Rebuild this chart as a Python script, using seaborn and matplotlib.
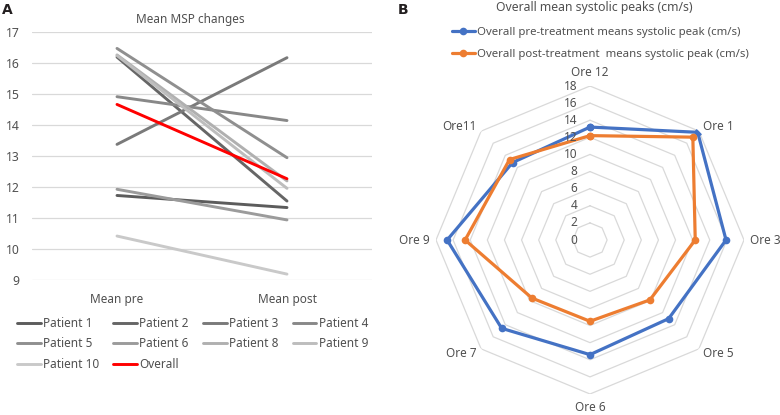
import numpy as np
import pandas as pd
import matplotlib
matplotlib.use("Agg")
import matplotlib.pyplot as plt
from matplotlib.lines import Line2D
import seaborn as sns

# ---------------- data ----------------
stages = ["Mean pre", "Mean post"]
patients = ["Patient 1", "Patient 2", "Patient 3", "Patient 4", "Patient 5",
            "Patient 6", "Patient 8", "Patient 9", "Patient 10"]
mean_pre = [11.73, 16.20, 13.38, 14.92, 16.48, 11.93, 16.27, 16.25, 10.42]
mean_post = [11.34, 11.55, 16.18, 14.15, 12.95, 10.94, 12.20, 11.96, 9.19]
overall_label = "Overall"
overall_pre = 14.67
overall_post = 12.27
patient_colors = ["#5c5c5c", "#666666", "#7a7a7a", "#888888", "#8f8f8f",
                  "#9b9b9b", "#b0b0b0", "#bdbdbd", "#c9c9c9"]
overall_color = "#ff0000"
y_ticks = [9, 10, 11, 12, 13, 14, 15, 16, 17]

hours = ["Ore 12", "Ore 1", "Ore 3", "Ore 5", "Ore 6", "Ore 7", "Ore 9", "Ore11"]
pre_peak = [13.2, 17.8, 15.9, 13.0, 13.4, 14.6, 16.7, 12.8]
post_peak = [12.2, 17.0, 12.3, 9.9, 9.5, 9.6, 14.6, 13.3]
pre_label = "Overall pre-treatment means systolic peak (cm/s)"
post_label = "Overall post-treatment  means systolic peak (cm/s)"
r_ticks = [0, 2, 4, 6, 8, 10, 12, 14, 16, 18]

# ---------------- style ----------------
sns.set_theme(style="white")
plt.rcParams["font.family"] = ["Noto Sans", "DejaVu Sans"]
TXT = "#505050"
GRID = "#d9d9d9"
FS = 8.5

W, H = 780, 415
fig = plt.figure(figsize=(W / 100, H / 100), dpi=100)

# ---------------- panel A ----------------
axA = fig.add_axes([32 / W, 1 - 280 / H, 340 / W, (280 - 32.3) / H])
rows = []
for name, a, b in zip(patients, mean_pre, mean_post):
    rows.append((name, stages[0], a))
    rows.append((name, stages[1], b))
rows.append((overall_label, stages[0], overall_pre))
rows.append((overall_label, stages[1], overall_post))
df = pd.DataFrame(rows, columns=["Series", "Stage", "MSP"])
palette = dict(zip(patients, patient_colors))
palette[overall_label] = overall_color
sns.lineplot(data=df, x="Stage", y="MSP", hue="Series", palette=palette,
             sort=False, linewidth=2.1, legend=False, ax=axA, estimator=None)
axA.set_xlim(-0.5, 1.5)
axA.set_ylim(9, 17)
axA.set_yticks(y_ticks)
axA.set_xlabel("")
axA.set_ylabel("")
axA.grid(axis="y", color=GRID, linewidth=0.9)
axA.grid(axis="x", visible=False)
axA.set_axisbelow(True)
for s in axA.spines.values():
    s.set_visible(False)
axA.tick_params(axis="y", length=0, pad=9, labelsize=FS + 0.3, labelcolor=TXT)
axA.tick_params(axis="x", length=0, pad=9, labelsize=FS, labelcolor=TXT)
fig.text(190 / W, 1 - 19 / H, "Mean MSP changes", ha="center", va="center",
         fontsize=FS, color=TXT)
fig.text(2 / W, 1 - 10 / H, "A", ha="left", va="center", fontsize=10,
         fontweight="bold", color="#231f20", family="DejaVu Sans")

labels_all = patients + [overall_label]
handles = {lab: Line2D([], [], color=palette[lab], lw=2.1) for lab in labels_all}
order = ["Patient 1", "Patient 5", "Patient 10", "Patient 2", "Patient 6",
         overall_label, "Patient 3", "Patient 8", "Patient 4", "Patient 9"]
fig.legend([handles[o] for o in order], order, ncol=4, loc="upper left",
           bbox_to_anchor=(17 / W, 1 - 317 / H), frameon=False, borderpad=0,
           borderaxespad=0, handlelength=2.0, handletextpad=0.2,
           columnspacing=1.2, labelspacing=0.62, fontsize=FS,
           labelcolor=TXT)

# ---------------- panel B ----------------
cx, cy, R = 590, 240, 154
axB = fig.add_axes([(cx - R) / W, (H - cy - R) / H, 2 * R / W, 2 * R / H],
                   projection="polar")
axB.set_theta_zero_location("N")
axB.set_theta_direction(-1)
n = len(hours)
theta = np.arange(n) * 2 * np.pi / n
theta_c = np.append(theta, theta[0] + 2 * np.pi)
for lvl in r_ticks[1:]:
    axB.plot(theta_c, [lvl] * (n + 1), color=GRID, lw=0.9, zorder=1)
rad = pd.DataFrame({
    "theta": np.concatenate([theta_c, theta_c]),
    "r": np.concatenate([np.append(pre_peak, pre_peak[0]),
                         np.append(post_peak, post_peak[0])]),
    "Series": [pre_label] * (n + 1) + [post_label] * (n + 1),
})
rad_pal = {pre_label: "#4472c4", post_label: "#ed7d31"}
sns.lineplot(data=rad, x="theta", y="r", hue="Series", palette=rad_pal,
             sort=False, estimator=None, linewidth=2.3, marker="o",
             markersize=5.5, markeredgewidth=0, legend=False, ax=axB,
             zorder=3)
axB.set_ylim(0, 18)
axB.set_xticks([])
axB.set_yticks([])
axB.grid(False)
axB.spines["polar"].set_visible(False)
axB.patch.set_alpha(0)
axB.set_xlabel("")
axB.set_ylabel("")
for v in r_ticks:
    axB.annotate(str(v), xy=(0, v), xytext=(-9, 0), textcoords="offset points",
                 ha="right", va="center", fontsize=FS, color=TXT,
                 annotation_clip=False)
for t, lab in zip(theta, hours):
    deg = np.degrees(t) % 360
    if deg < 1 or abs(deg - 180) < 1:
        axB.text(t, 19.55, lab, ha="center", va="center", fontsize=FS,
                 color=TXT, clip_on=False)
    elif deg < 180:
        axB.text(t, 18.7, lab, ha="left", va="center", fontsize=FS,
                 color=TXT, clip_on=False)
    else:
        axB.text(t, 18.7, lab, ha="right", va="center", fontsize=FS,
                 color=TXT, clip_on=False)

fig.text(594 / W, 1 - 8 / H, "Overall mean systolic peaks (cm/s)", ha="center",
         va="center", fontsize=8.8, color=TXT)
fig.text(398 / W, 1 - 10 / H, "B", ha="left", va="center", fontsize=10,
         fontweight="bold", color="#231f20", family="DejaVu Sans")
rh = [Line2D([], [], color=rad_pal[k], lw=2.3, marker="o", markersize=5.5,
             markeredgewidth=0) for k in (pre_label, post_label)]
fig.legend(rh, [pre_label, post_label], loc="upper left",
           bbox_to_anchor=(452 / W, 1 - 27 / H), frameon=False, borderpad=0,
           borderaxespad=0, handlelength=2.0, handletextpad=0.2,
           labelspacing=0.95, fontsize=8.2, labelcolor=TXT, numpoints=1)

fig.savefig("out.png", dpi=100)
